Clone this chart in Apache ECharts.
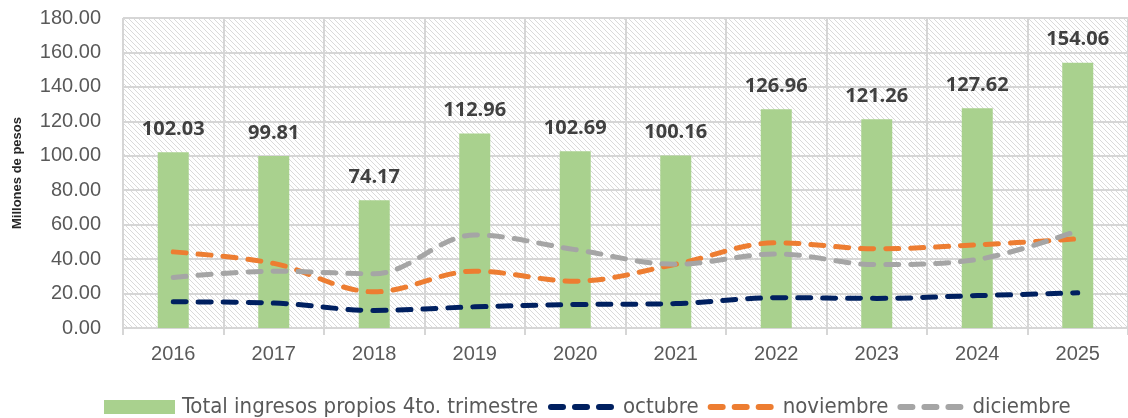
<!DOCTYPE html>
<html>
<head>
<meta charset="utf-8">
<script src="https://cdn.jsdelivr.net/npm/echarts@6/dist/echarts.min.js"></script>
<style>
  html, body { margin: 0; padding: 0; background: #fff; }
  #chart { width: 1128px; height: 418px; }
</style>
</head>
<body>
<div id="chart"></div>
<script>
var years = ['2016', '2017', '2018', '2019', '2020', '2021', '2022', '2023', '2024', '2025'];
var totalData = [102.03, 99.81, 74.17, 112.96, 102.69, 100.16, 126.96, 121.26, 127.62, 154.06];
var octubreData = [15.2, 14.5, 10.2, 12.3, 13.6, 14.2, 17.6, 17.2, 18.8, 20.4];
var noviembreData = [44.2, 37.5, 21.0, 33.0, 27.2, 37.0, 49.5, 46.0, 48.3, 51.8];
var diciembreData = [29.3, 33.0, 31.5, 54.0, 45.5, 37.0, 43.0, 36.8, 39.8, 56.5];
var legendNames = ['Total ingresos propios 4to. trimestre', 'octubre', 'noviembre', 'diciembre'];

// trama diagonal del fondo del area de trazado
var tile = document.createElement('canvas');
tile.width = 5;
tile.height = 5;
var ctx = tile.getContext('2d');
ctx.fillStyle = '#ffffff';
ctx.fillRect(0, 0, 5, 5);
ctx.strokeStyle = '#dadada';
ctx.lineWidth = 1;
ctx.beginPath();
ctx.moveTo(-1, -1); ctx.lineTo(6, 6);
ctx.moveTo(-1, 4); ctx.lineTo(1, 6);
ctx.moveTo(4, -1); ctx.lineTo(6, 1);
ctx.stroke();

var myChart = echarts.init(document.getElementById('chart'));
var gridColor = '#d6d6d6';
var textColor = '#595959';
var legendFont = 'Liberation Sans Narrow, DejaVu Sans Condensed, sans-serif';
// tres guiones redondeados para la leyenda de las lineas
var dashIcon = 'path://M3,0h12a3,3 0 0 1 0,6h-12a3,3 0 0 1 0,-6z M27,0h12a3,3 0 0 1 0,6h-12a3,3 0 0 1 0,-6z M51,0h12a3,3 0 0 1 0,6h-12a3,3 0 0 1 0,-6z';

function lineSerie(name, color, data) {
    return {
        name: name,
        type: 'line',
        data: data,
        smooth: 0.35,
        symbol: 'none',
        z: 5,
        lineStyle: {
            color: color,
            width: 5,
            type: [13, 12],
            cap: 'round'
        },
        itemStyle: { color: color }
    };
}

var option = {
    backgroundColor: '#ffffff',
    animation: false,
    grid: {
        show: true,
        left: 123,
        top: 18,
        bottom: 90,
        right: -9,
        borderWidth: 0,
        backgroundColor: { image: tile, repeat: 'repeat' }
    },
    legend: [{
        data: [legendNames[0]],
        left: 99,
        top: 391,
        itemWidth: 71,
        itemHeight: 14,
        itemGap: 8,
        icon: 'rect',
        textStyle: { color: textColor, fontSize: 22, fontFamily: legendFont, padding: [0, 0, 0, 2] }
    }, {
        data: legendNames.slice(1).map(function (n) { return { name: n, icon: dashIcon }; }),
        left: 543,
        top: 391,
        itemWidth: 66,
        itemHeight: 6,
        itemGap: 9,
        textStyle: { color: textColor, fontSize: 22, fontFamily: legendFont, padding: [0, 0, 0, 4] }
    }],
    xAxis: {
        type: 'category',
        data: years,
        boundaryGap: true,
        axisLine: { show: true, lineStyle: { color: gridColor, width: 2 } },
        axisTick: { show: true, length: 7, lineStyle: { color: gridColor, width: 2 } },
        axisLabel: { color: textColor, fontSize: 20, margin: 16, fontFamily: 'Liberation Sans, sans-serif' },
        splitLine: { show: true, lineStyle: { color: gridColor, width: 2 } }
    },
    yAxis: {
        type: 'value',
        min: 0,
        max: 180,
        interval: 20,
        name: 'Millones de pesos',
        nameLocation: 'middle',
        nameGap: 99,
        nameTextStyle: { color: '#262626', fontSize: 13, fontWeight: 'bold', fontFamily: 'Liberation Sans, sans-serif' },
        axisLine: { show: false },
        axisTick: { show: false },
        axisLabel: {
            color: textColor,
            fontSize: 20,
            margin: 22,
            fontFamily: 'Liberation Sans, sans-serif',
            formatter: function (v) { return v.toFixed(2); }
        },
        splitLine: { show: true, lineStyle: { color: gridColor, width: 2 } }
    },
    series: [{
        name: legendNames[0],
        type: 'bar',
        data: totalData,
        barWidth: 31,
        itemStyle: { color: '#a9d18e' },
        label: {
            show: true,
            position: 'top',
            distance: 13,
            color: '#404040',
            fontSize: 20,
            fontWeight: 'bold',
            fontFamily: 'Open Sans, sans-serif',
            formatter: function (p) { return p.value.toFixed(2); }
        }
    },
    lineSerie(legendNames[1], '#002060', octubreData),
    lineSerie(legendNames[2], '#ed7d31', noviembreData),
    lineSerie(legendNames[3], '#a5a5a5', diciembreData)
    ]
};

myChart.setOption(option);
window.addEventListener('resize', function () {
    myChart.resize();
});
</script>
</body>
</html>
